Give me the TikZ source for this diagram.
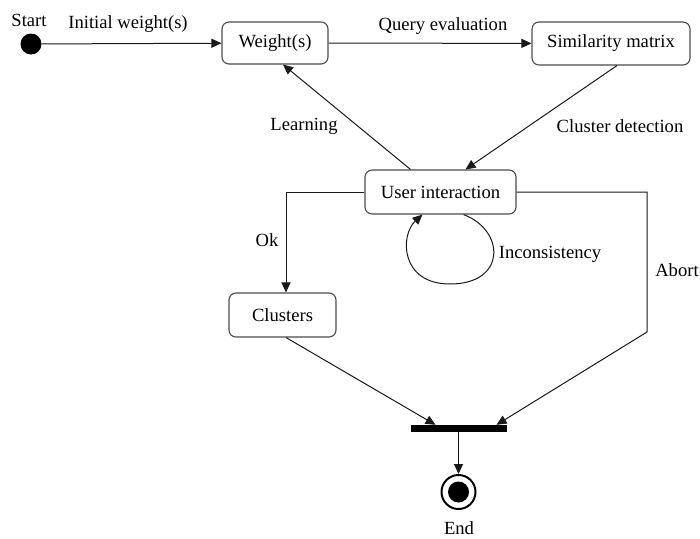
\documentclass[tikz,border=0pt]{standalone}
\usepackage{fontspec}
\setmainfont{Liberation Serif}
\usetikzlibrary{arrows.meta,calc}
\begin{document}
\begin{tikzpicture}[x=1pt,y=-1pt,
  every node/.style={font=\fontsize{18.6}{22}\selectfont, inner sep=0pt},
  state/.style={draw=black!70, line width=1.1pt, rounded corners=7pt, fill=white},
  lbl/.style={text=black},
  arr/.style={draw=black!90, line width=1pt, -{Triangle[length=10pt,width=9pt]}}]
\useasboundingbox (0,0) rectangle (700,538);

% states
\node[state, minimum width=106pt, minimum height=42pt] (w) at (275,43) {Weight(s)};
\node[state, minimum width=158pt, minimum height=43pt] (sim) at (611,43.5) {Similarity matrix};
\node[state, minimum width=151pt, minimum height=44pt] (ui) at (440.5,192) {User interaction};
\node[state, minimum width=107pt, minimum height=44pt] (cl) at (282.5,315) {Clusters};

% initial and final pseudo-states, join bar
\node[circle, fill=black, minimum size=21pt] (start) at (31,44) {};
\node[circle, draw=black, line width=2pt, minimum size=34pt] (end) at (458.5,492) {};
\node[circle, fill=black, minimum size=21pt] (endin) at (458.5,492) {};
\node[fill=black, minimum width=96pt, minimum height=7pt] (bar) at (458.5,428.5) {};

% corner points of the abort route
\coordinate (ab1) at (647,192);
\coordinate (ab2) at (647,332);

% transitions
\draw[arr] (start) -- (w);
\draw[arr] (w) -- (sim);
\draw[arr] ([xshift=6pt]sim.south) -- ([xshift=25pt]ui.north);
\draw[arr] ([xshift=-30pt]ui.north) -- ([xshift=8pt]w.south);
\draw[arr] (ui.west) -| ([xshift=3.5pt]cl.north);
\draw[arr] (ui.east) -- (ab1) -- (ab2) -- ([xshift=38pt]bar.north);
\draw[arr] ([xshift=3.5pt]cl.south) -- ([xshift=-23pt]bar.north);
\draw[arr] (bar.south) -- (end.north);
% self loop
\draw[arr] ([xshift=23pt]ui.south) .. controls (505,230) and (507,284) .. (450,284)
  .. controls (400,284) and (400,235) .. ([xshift=-18pt]ui.south);

% labels
\node[lbl] (tstart) at (29,20) {Start};
\node[lbl] (tinit) at (128,24) {Initial weight(s)};
\node[lbl] (tquery) at (443,26) {Query evaluation};
\node[lbl] (tclus) at (620,126) {Cluster detection};
\node[lbl] (tlearn) at (304,126) {Learning};
\node[lbl] (tok) at (267,240) {Ok};
\node[lbl] (tinc) at (550,254) {Inconsistency};
\node[lbl] (tabort) at (677,270) {Abort};
\node[lbl] (tend) at (459,528) {End};
\end{tikzpicture}
\end{document}
